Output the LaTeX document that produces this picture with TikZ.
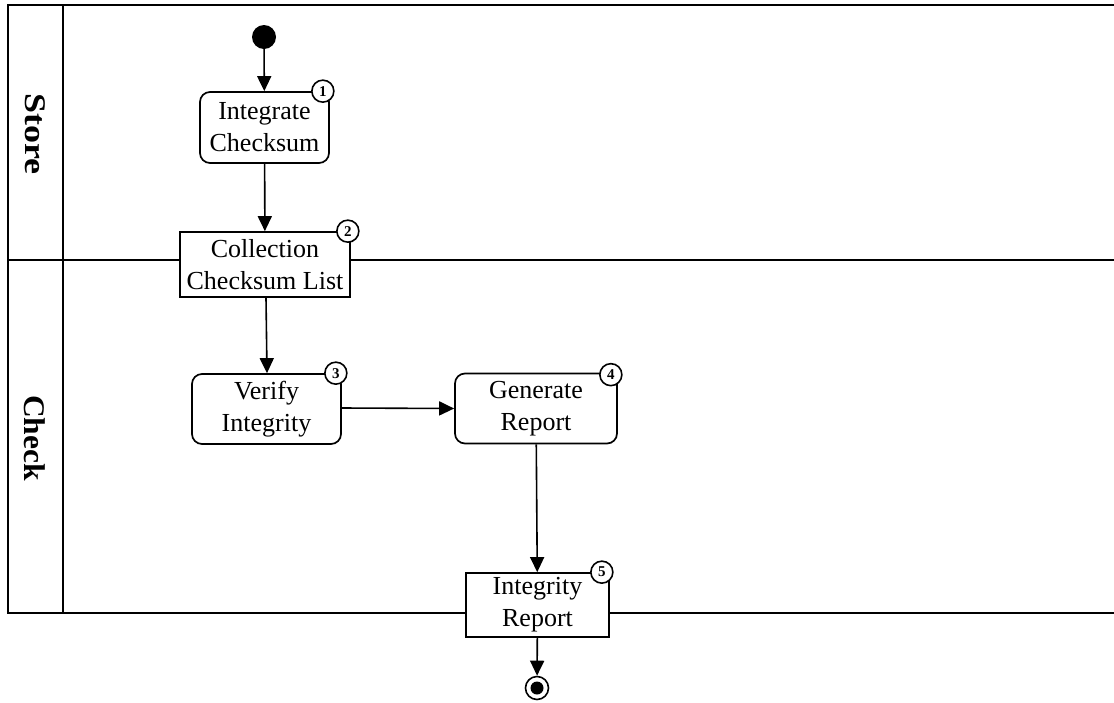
\documentclass[tikz,border=0pt]{standalone}
\usepackage{fontspec}
\setmainfont{Liberation Serif}
\usetikzlibrary{arrows.meta}
\begin{document}
\begin{tikzpicture}[x=1pt,y=-1pt,
  lane/.style={line width=1.9pt},
  act/.style={draw, line width=1.7pt, fill=white, rounded corners=10pt, align=center,
    font=\fontsize{26}{32}\selectfont, inner sep=0pt},
  obj/.style={draw, line width=1.7pt, fill=white, align=center,
    font=\fontsize{26}{32}\selectfont, inner sep=0pt},
  badge/.style={circle, draw, line width=1.6pt, fill=white, minimum size=22pt, inner sep=0pt,
    font=\fontsize{15}{15}\selectfont\bfseries},
  flow/.style={line width=1.6pt, -{Triangle[length=15pt,width=14pt]}},
  lanelabel/.style={font=\fontsize{30}{30}\selectfont\bfseries, rotate=-90}
]
\useasboundingbox (0,0) rectangle (1114,702);

% swimlane frame
\draw[lane] (8,5) rectangle (63,613);
\draw[lane] (63,5) -- (1114,5);
\draw[lane] (8,260) -- (1114,260);
\draw[lane] (63,613) -- (1114,613);
\node[lanelabel, xscale=1.2] (store) at (35,134) {Store};
\node[lanelabel, xscale=1.05] (check) at (35,438) {Check};

% start and end
\node[circle, fill=black, minimum size=24pt, inner sep=0pt] (start) at (264,37) {};
\node[circle, draw, line width=1.6pt, fill=white, minimum size=23pt, inner sep=0pt] (final) at (537,688) {};
\node[circle, fill=black, minimum size=13pt, inner sep=0pt] (finaldot) at (final) {};

% activities and objects
\node[act, minimum width=129pt, minimum height=71pt] (integ) at (264.5,127.5) {Integrate\\Checksum};
\node[obj, minimum width=170pt, minimum height=65pt] (coll) at (265,264.5) {Collection\\Checksum List};
\node[act, minimum width=149pt, minimum height=70pt] (verify) at (266.5,409) {Verify\\Integrity};
\node[act, minimum width=162pt, minimum height=70pt] (gen) at (536,408.5) {Generate\\Report};
\node[obj, minimum width=143pt, minimum height=64pt] (irep) at (537.5,605) {Integrity\\Report};

% step numbers
\node[badge] (b1) at ([xshift=-7pt]integ.north east) {1};
\node[badge] (b2) at ([xshift=-3pt]coll.north east) {2};
\node[badge] (b3) at ([xshift=-6pt]verify.north east) {3};
\node[badge] (b4) at ([xshift=-7pt,yshift=-2pt]gen.north east) {4};
\node[badge] (b5) at ([xshift=-8pt]irep.north east) {5};

% control flow
\draw[flow] (start) -- (integ);
\draw[flow] (integ) -- (coll);
\draw[flow] ([xshift=1pt]coll.south) -- ([xshift=0.5pt]verify.north);
\draw[flow] ([yshift=1pt]verify.east) -- (gen.west);
\draw[flow] (gen) -- (irep);
\draw[flow] (irep) -- (final);
\end{tikzpicture}
\end{document}
